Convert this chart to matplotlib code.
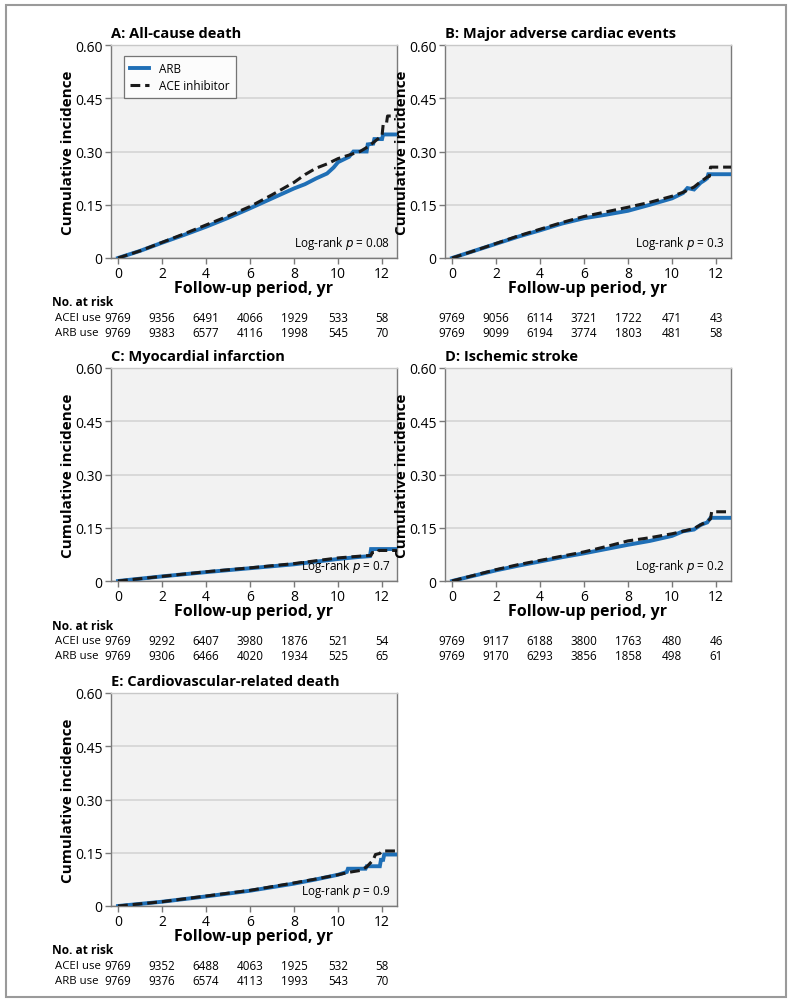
import numpy as np
import matplotlib
matplotlib.use("Agg")
import matplotlib.pyplot as plt
import matplotlib.transforms as mtrans
from matplotlib.patches import Rectangle

plt.rcParams['font.family'] = ['Open Sans', 'DejaVu Sans']

W, H = 791, 1004

# --- data ---
titles = ["A: All-cause death", "B: Major adverse cardiac events",
          "C: Myocardial infarction", "D: Ischemic stroke",
          "E: Cardiovascular-related death"]
pvals = ["0.08", "0.3", "0.7", "0.2", "0.9"]

arb_t = [
    [0, 1, 2, 3, 4, 5, 6, 7, 8, 8.5, 9, 9.5, 9.8, 10, 10.5, 10.7, 11.3, 11.35, 11.6, 11.65, 12.0, 12.05, 12.7],
    [0, 1, 2, 3, 4, 5, 6, 7, 8, 9, 10, 10.5, 10.7, 11, 11.3, 11.5, 11.6, 11.65, 12.7],
    [0, 2, 4, 6, 8, 10, 11, 11.45, 11.5, 12.7],
    [0, 1, 2, 3, 4, 5, 6, 7, 8, 9, 10, 10.5, 11, 11.3, 11.6, 11.75, 12.7],
    [0, 2, 4, 6, 8, 9, 10, 10.4, 10.45, 11.25, 11.3, 11.9, 11.95, 12.05, 12.1, 12.7],
]
arb_v = [
    [0, 0.02, 0.043, 0.065, 0.088, 0.113, 0.14, 0.168, 0.196, 0.208, 0.224, 0.238, 0.255, 0.27, 0.285, 0.30, 0.30, 0.32, 0.322, 0.335, 0.335, 0.348, 0.348],
    [0, 0.02, 0.04, 0.06, 0.078, 0.097, 0.112, 0.122, 0.133, 0.15, 0.168, 0.183, 0.197, 0.193, 0.212, 0.22, 0.225, 0.236, 0.236],
    [0, 0.013, 0.025, 0.036, 0.047, 0.062, 0.068, 0.07, 0.09, 0.09],
    [0, 0.015, 0.03, 0.043, 0.055, 0.067, 0.078, 0.09, 0.102, 0.113, 0.127, 0.14, 0.145, 0.158, 0.165, 0.178, 0.178],
    [0, 0.012, 0.027, 0.043, 0.063, 0.075, 0.088, 0.096, 0.105, 0.105, 0.112, 0.112, 0.13, 0.13, 0.145, 0.145],
]
ace_t = [
    [0, 1, 2, 3, 4, 5, 6, 7, 8, 8.5, 9, 9.5, 10, 10.5, 11, 11.4, 11.7, 12.0, 12.05, 12.2, 12.25, 12.7],
    [0, 1, 2, 3, 4, 5, 6, 7, 8, 9, 10, 10.5, 11, 11.3, 11.6, 11.7, 11.75, 12.7],
    [0, 2, 4, 6, 8, 10, 11, 11.5, 11.55, 11.8, 11.85, 12.7],
    [0, 1, 2, 3, 4, 5, 6, 7, 8, 9, 10, 10.5, 11, 11.5, 11.75, 11.8, 12.7],
    [0, 2, 4, 6, 8, 9, 10, 10.5, 11, 11.3, 11.6, 11.7, 11.9, 12.0, 12.7],
]
ace_v = [
    [0, 0.02, 0.044, 0.068, 0.093, 0.118, 0.145, 0.178, 0.213, 0.235, 0.253, 0.265, 0.28, 0.29, 0.30, 0.315, 0.33, 0.345, 0.375, 0.378, 0.40, 0.40],
    [0, 0.02, 0.041, 0.062, 0.081, 0.1, 0.117, 0.13, 0.143, 0.157, 0.174, 0.185, 0.2, 0.215, 0.228, 0.23, 0.256, 0.256],
    [0, 0.013, 0.026, 0.037, 0.049, 0.065, 0.07, 0.072, 0.08, 0.08, 0.086, 0.086],
    [0, 0.016, 0.032, 0.046, 0.058, 0.07, 0.082, 0.097, 0.113, 0.122, 0.133, 0.14, 0.148, 0.165, 0.175, 0.195, 0.195],
    [0, 0.012, 0.028, 0.044, 0.065, 0.076, 0.088, 0.095, 0.1, 0.11, 0.13, 0.145, 0.148, 0.155, 0.155],
]

risk_years = [0, 2, 4, 6, 8, 10, 12]
risk_acei = [
    [9769, 9356, 6491, 4066, 1929, 533, 58],
    [9769, 9056, 6114, 3721, 1722, 471, 43],
    [9769, 9292, 6407, 3980, 1876, 521, 54],
    [9769, 9117, 6188, 3800, 1763, 480, 46],
    [9769, 9352, 6488, 4063, 1925, 532, 58],
]
risk_arb = [
    [9769, 9383, 6577, 4116, 1998, 545, 70],
    [9769, 9099, 6194, 3774, 1803, 481, 58],
    [9769, 9306, 6466, 4020, 1934, 525, 65],
    [9769, 9170, 6293, 3856, 1858, 498, 61],
    [9769, 9376, 6574, 4113, 1993, 543, 70],
]

BLUE = '#1f6fb6'
GRID = '#d4d4d4'
SPINE = '#7a7a7a'

fig = plt.figure(figsize=(W / 100, H / 100), dpi=100)

# panel boxes in pixels: left, top
lefts = [111, 445, 111, 445, 111]
tops = [46, 46, 369, 369, 694]
aw, ah = 286, 213

fig.patches.append(Rectangle((6 / W, 1 - 998 / H), 780 / W, 992 / H,
                             transform=fig.transFigure, fill=False,
                             edgecolor='#9a9a9a', lw=1.5))

for i in range(5):
    l, t = lefts[i], tops[i]
    ax = fig.add_axes([l / W, 1 - (t + ah) / H, aw / W, ah / H])
    ax.set_facecolor('#f2f2f2')
    ax.set_xlim(-0.32, 12.68)
    ax.set_ylim(0, 0.60)
    ax.set_yticks([0, 0.15, 0.30, 0.45, 0.60])
    ax.set_yticklabels(['0', '0.15', '0.30', '0.45', '0.60'])
    ax.set_xticks(risk_years)
    ax.yaxis.grid(True, color=GRID, lw=1.2)
    ax.set_axisbelow(True)
    for s in ax.spines.values():
        s.set_color(SPINE)
        s.set_linewidth(1.0)
    ax.spines['top'].set_color('#c8c8c8')
    ax.tick_params(direction='out', length=4, width=1, color=SPINE,
                   labelsize=10, pad=2)

    ax.plot(arb_t[i], arb_v[i], color=BLUE, lw=2.8, label='ARB',
            solid_joinstyle='miter', zorder=3)
    ax.plot(ace_t[i], ace_v[i], color='#1a1a1a', lw=2.2, ls=(0, (3.2, 1.6)),
            label='ACE inhibitor', zorder=4)

    ax.set_title(titles[i], loc='left', fontsize=10.5, fontweight='bold',
                 pad=6, x=0.0)
    ax.set_xlabel('Follow-up period, yr', fontsize=11.5, fontweight='bold',
                  labelpad=-1)
    ax.set_ylabel('Cumulative incidence', fontsize=11, fontweight='bold')
    ax.yaxis.set_label_coords(-36 / aw, 0.5)
    ax.text(0.975, 0.035, r'Log-rank $\it{p}$ = ' + pvals[i],
            transform=ax.transAxes, ha='right', va='bottom', fontsize=8.5)

    if i == 0:
        leg = ax.legend(loc='upper left', bbox_to_anchor=(0.025, 0.975),
                        fontsize=8.5, frameon=True, fancybox=False,
                        handlelength=1.6, handletextpad=0.9,
                        borderpad=0.5, labelspacing=0.35)
        leg.get_frame().set_edgecolor('#555555')
        leg.get_frame().set_linewidth(0.9)

    tr = mtrans.blended_transform_factory(ax.transData, fig.transFigure)
    y0 = t + 257
    if i % 2 == 0:
        fig.text(52 / W, 1 - y0 / H, 'No. at risk', fontsize=8.6,
                 fontweight='bold', va='center', ha='left')
        fig.text(55 / W, 1 - (y0 + 16) / H, 'ACEI use', fontsize=8.2,
                 va='center', ha='left')
        fig.text(55 / W, 1 - (y0 + 31) / H, 'ARB use', fontsize=8.2,
                 va='center', ha='left')
    for yr, a, b in zip(risk_years, risk_acei[i], risk_arb[i]):
        ax.text(yr, 1 - (y0 + 16) / H, str(a), transform=tr, fontsize=8.4,
                ha='center', va='center')
        ax.text(yr, 1 - (y0 + 31) / H, str(b), transform=tr, fontsize=8.4,
                ha='center', va='center')

fig.savefig('out.png', dpi=100)
